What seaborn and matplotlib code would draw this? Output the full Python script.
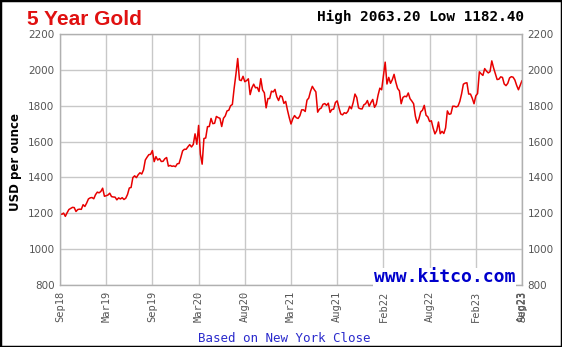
import numpy as np
import pandas as pd
import seaborn as sns
import matplotlib
matplotlib.use("Agg")
import matplotlib.pyplot as plt
import matplotlib.dates as mdates
from matplotlib.patches import Rectangle


# weekly closes (Fridays)
start_date = "2018-09-07"
prices_2018 = [1198, 1194, 1201, 1183, 1203, 1221, 1227, 1233, 1232, 1210, 1221, 1223,
               1222, 1248, 1238, 1257, 1280]
prices_2019 = [1286, 1288, 1281, 1304, 1318, 1314, 1322, 1340, 1295, 1298, 1302, 1312,
               1293, 1291, 1290, 1275, 1286, 1280, 1287, 1277, 1284, 1305, 1341, 1344,
               1399, 1409, 1399, 1415, 1426, 1419, 1442, 1497, 1513, 1527, 1529, 1550,
               1488, 1516, 1497, 1505, 1489, 1490, 1504, 1511, 1463, 1467, 1462, 1464,
               1460, 1476, 1478, 1511]
prices_2020 = [1548, 1557, 1557, 1571, 1583, 1570, 1584, 1643, 1585, 1690, 1530, 1474,
               1617, 1620, 1683, 1684, 1729, 1700, 1702, 1740, 1734, 1730, 1684, 1730,
               1743, 1771, 1775, 1800, 1807, 1897, 1975, 2063.2, 1944, 1940, 1964, 1934,
               1940, 1950, 1862, 1900, 1920, 1900, 1902, 1879, 1951, 1888, 1872, 1788,
               1840, 1840, 1881, 1877]
prices_2021 = [1891, 1850, 1829, 1856, 1850, 1813, 1824, 1776, 1734, 1698, 1727, 1745,
               1733, 1729, 1744, 1777, 1777, 1768, 1831, 1843, 1881, 1908, 1891, 1877,
               1764, 1781, 1787, 1808, 1812, 1802, 1814, 1763, 1779, 1781, 1818, 1827,
               1788, 1754, 1749, 1761, 1757, 1768, 1796, 1783, 1818, 1865, 1846, 1788,
               1783, 1782, 1805, 1811, 1829]
prices_2022 = [1797, 1818, 1835, 1791, 1808, 1859, 1898, 1889, 1966, 2043, 1921, 1958,
               1925, 1945, 1975, 1931, 1896, 1883, 1811, 1846, 1853, 1850, 1871, 1839,
               1826, 1811, 1742, 1703, 1727, 1766, 1775, 1802, 1747, 1738, 1712, 1716,
               1675, 1643, 1661, 1709, 1644, 1657, 1645, 1676, 1771, 1752, 1755, 1797,
               1797, 1793, 1798, 1824]
prices_2023 = [1866, 1920, 1926, 1928, 1865, 1865, 1842, 1811, 1855, 1868, 1989, 1978,
               1969, 2007, 1993, 1983, 1990, 2050, 2011, 1978, 1946, 1948, 1961, 1958,
               1921, 1912, 1925, 1955, 1962, 1959, 1943, 1913, 1889, 1915, 1940]

tick_labels = ["Sep18", "Mar19", "Sep19", "Mar20", "Aug20", "Mar21",
               "Aug21", "Feb22", "Aug22", "Feb23", "Aug23"]
last_label = "Sep23"
y_ticks = [800, 1000, 1200, 1400, 1600, 1800, 2000, 2200]

title = "5 Year Gold"
hilo = "High 2063.20 Low 1182.40"


prices = prices_2018 + prices_2019 + prices_2020 + prices_2021 + prices_2022 + prices_2023
dates = pd.date_range(start_date, periods=len(prices), freq="W-FRI")
df = pd.DataFrame({"date": dates, "price": prices})

sns.set_style("white")
fig = plt.figure(figsize=(5.62, 3.47), dpi=100)
ax = fig.add_axes([60 / 562, 1 - 285 / 347, 462 / 562, 251 / 347])

sns.lineplot(data=df, x="date", y="price", color="#e80000", lw=1.1, ax=ax)

grid_c = "#c8c8c8"
ax.set_ylim(800, 2200)
ax.set_yticks(y_ticks)
x0, x1 = mdates.date2num(dates[0]), mdates.date2num(dates[-1])
ax.set_xlim(x0, x1)
xt = list(np.linspace(x0, x1, len(tick_labels)))
ax.set_xticks(xt + [x1 - 0.01])
ax.set_xticklabels(tick_labels + [last_label], rotation=90,
                   family="DejaVu Sans Mono", fontsize=7.5, color="#555555")
ax.tick_params(axis="y", length=0, pad=4, labelright=True,
               labelsize=7.5, labelcolor="#555555")
ax.tick_params(axis="x", length=0, pad=4)
ax.grid(True, color=grid_c, lw=1)
for s in ax.spines.values():
    s.set_color("#b0b0b0")
    s.set_linewidth(1)

ax.set_xlabel("")
ax.set_ylabel("USD per ounce", fontsize=8.5, fontweight="bold", color="black")
ax.yaxis.set_label_coords(-0.082, 0.49)

fig.text(27 / 562, 1 - 25 / 347, title, family="Liberation Sans", fontweight="bold",
         fontsize=15, color="#e01010", ha="left", va="baseline")
fig.text(524 / 562, 1 - 17 / 347, hilo, family="DejaVu Sans Mono", fontweight="bold",
         fontsize=10.4, color="black", ha="right", va="center")
ax.text(0.986, 0.03, "www.kitco.com", transform=ax.transAxes, ha="right", va="center",
        family="DejaVu Sans Mono", fontweight="bold", fontsize=13, color="#0000cc",
        bbox=dict(facecolor="white", edgecolor="none", pad=0.5))
fig.text(284 / 562, 1 - 339 / 347, "Based on New York Close", family="DejaVu Sans Mono",
         fontsize=9, color="#2a2acc", ha="center", va="center")

fig.patches.append(Rectangle((0, 0), 1, 1, transform=fig.transFigure, fill=False,
                             edgecolor="black", lw=2.5))

fig.savefig("out.png", dpi=100)
